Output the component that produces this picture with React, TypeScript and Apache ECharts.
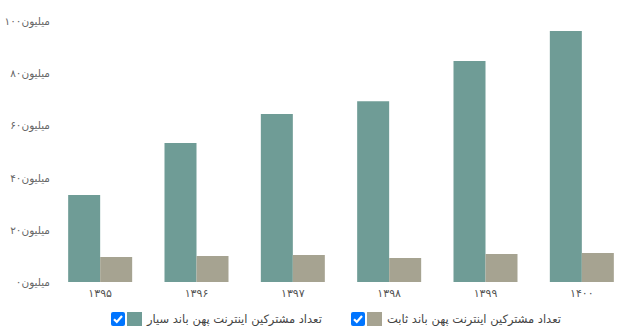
import React, { useEffect, useRef } from "react";
import * as echarts from "echarts";

const categories = ["۱۳۹۵", "۱۳۹۶", "۱۳۹۷", "۱۳۹۸", "۱۳۹۹", "۱۴۰۰"];
const mobileValues = [33.3, 53.3, 64.4, 69.3, 84.7, 96.2];
const fixedValues = [9.6, 10.0, 10.3, 9.2, 10.7, 11.1];
const yTickLabels = ["۰", "۲۰", "۴۰", "۶۰", "۸۰", "۱۰۰"];
const seriesNames = [
  "تعداد مشترکین اینترنت پهن باند سیار",
  "تعداد مشترکین اینترنت پهن باند ثابت",
];
const unit = "میلیون";

const FONT = "'DejaVu Sans', 'Noto Sans', sans-serif";

function checkbox(x: number, y: number) {
  return {
    type: "group",
    x,
    y,
    children: [
      { type: "rect", shape: { x: 0, y: 0, width: 14, height: 14, r: 2 }, style: { fill: "#0075FF" } },
      {
        type: "polyline",
        shape: { points: [[3, 7.2], [5.8, 10], [11, 4]] },
        style: { stroke: "#ffffff", lineWidth: 2.2, fill: "none" },
      },
    ],
  };
}

export default function App() {
  const ref = useRef<HTMLDivElement>(null);
  useEffect(() => {
    if (!ref.current) return;
    const chart = echarts.init(ref.current, null, { renderer: "svg" });
    const legendCommon = {
      top: 312,
      padding: 0,
      icon: "rect",
      itemWidth: 15,
      itemHeight: 14,
      itemGap: 6,
      textStyle: { color: "#444", fontSize: 11.5, fontFamily: FONT },
    };
    chart.setOption({
      animation: false,
      grid: { left: 52, top: 21, width: 581, height: 261 },
      xAxis: {
        type: "category",
        data: categories,
        axisLine: { show: false },
        axisTick: { show: false },
        axisLabel: { color: "#555", fontSize: 11, fontFamily: FONT, margin: 6 },
      },
      yAxis: {
        type: "value",
        min: 0,
        max: 100,
        interval: 20,
        splitLine: { show: false },
        axisLine: { show: false },
        axisTick: { show: false },
        axisLabel: {
          color: "#666",
          fontSize: 10.5,
          fontFamily: FONT,
          margin: 2,
          formatter: (v: number) => yTickLabels[Math.round(v / 20)] + unit,
        },
      },
      legend: [
        { ...legendCommon, data: [seriesNames[0]], left: 127 },
        { ...legendCommon, data: [seriesNames[1]], left: 367 },
      ],
      graphic: [checkbox(111, 312), checkbox(351, 312)],
      series: [
        {
          name: seriesNames[0],
          type: "bar",
          data: mobileValues,
          barWidth: 32,
          barGap: "0%",
          itemStyle: { color: "#6F9C96" },
        },
        {
          name: seriesNames[1],
          type: "bar",
          data: fixedValues,
          barWidth: 32,
          barGap: "0%",
          itemStyle: { color: "#A6A391" },
        },
      ],
    });
    return () => chart.dispose();
  }, []);
  return (
    <div
      ref={ref}
      style={{ position: "absolute", left: 0, top: 0, width: 630, height: 332 }}
    />
  );
}
